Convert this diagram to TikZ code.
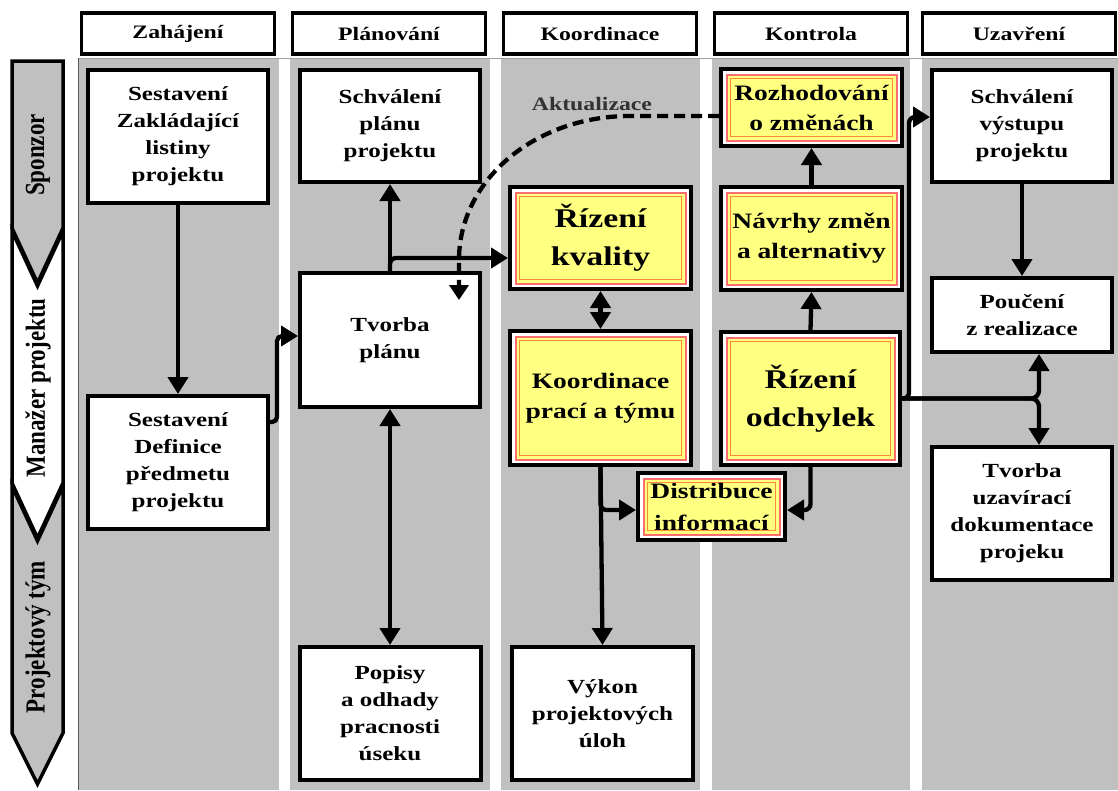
\documentclass[tikz,border=0pt]{standalone}
\usepackage{fontspec}
\setmainfont{Liberation Serif}[FakeStretch=1.25]
\newfontfamily\lanefont{Liberation Serif}
\usetikzlibrary{arrows.meta,calc}
\definecolor{colgray}{HTML}{C0C0C0}
\definecolor{yfill}{HTML}{FFFF80}
\definecolor{salmonln}{HTML}{FF6E6E}
\definecolor{orangeln}{HTML}{FF8A3D}
\tikzset{
  sz/.style 2 args={minimum width=#1pt, minimum height=#2pt},
  wbox/.style={draw, line width=4pt, fill=white, align=center, inner sep=2pt,
    font=\bfseries\fontsize{20}{27}\selectfont},
  hbox/.style={draw, line width=3.5pt, fill=white, minimum width=193pt, minimum height=41pt,
    inner sep=0pt, font=\bfseries\fontsize{19}{22}\selectfont},
  ybox/.style={draw, line width=4pt, fill=white, align=center, inner sep=2pt,
    path picture={
      \draw[salmonln, line width=2pt, fill=yfill]
        ($(path picture bounding box.north west)+(5.5pt,-5.5pt)$) rectangle
        ($(path picture bounding box.south east)+(-5.5pt,5.5pt)$);
      \draw[orangeln, line width=1.2pt]
        ($(path picture bounding box.north west)+(9.5pt,-9.5pt)$) rectangle
        ($(path picture bounding box.south east)+(-9.5pt,9.5pt)$);
    }},
  ymid/.style={font=\bfseries\fontsize{22}{30}\selectfont},
  ybig/.style={font=\bfseries\fontsize{27}{38}\selectfont},
  lanebox/.style={draw=black, line width=3.5pt},
  lanetext/.style={rotate=90, font=\lanefont\bfseries\fontsize{23}{23}\selectfont},
  arr/.style={line width=4.3pt, -{Triangle[width=20pt,length=17pt]}},
  darr/.style={line width=4.3pt, {Triangle[width=20pt,length=17pt]}-{Triangle[width=20pt,length=17pt]}},
  dasharr/.style={line width=4.3pt, dash pattern=on 11pt off 6pt, -{Triangle[width=19pt,length=15pt]}},
}
\begin{document}
\begin{tikzpicture}[x=1pt,y=-1pt]
\useasboundingbox (0,0) rectangle (1118,790);
\fill[white] (0,0) rectangle (1118,790);
% column backgrounds
\fill[colgray] (78,58) rectangle (279,790);
\fill[colgray] (290,58) rectangle (490,790);
\fill[colgray] (501,58) rectangle (700,790);
\fill[colgray] (712,58) rectangle (910,790);
\fill[colgray] (922,58) rectangle (1118,790);
\draw[gray!75, line width=1pt] (78,58) -- (1118,58);
\draw[gray!70!black, line width=0.8pt] (78,58) -- (78,790);
% swimlane arrows
\filldraw[lanebox, fill=colgray] (12,61) -- (63,61) -- (63,228) -- (37.5,283) -- (12,228) -- cycle;
\filldraw[lanebox, fill=white] (12,231) -- (37.5,286) -- (63,231) -- (63,483) -- (37.5,538) -- (12,483) -- cycle;
\filldraw[lanebox, fill=colgray] (12,486) -- (37.5,541) -- (63,486) -- (63,733) -- (37.5,784) -- (12,733) -- cycle;
\node[lanetext] (lsp) at (38,155) {\scalebox{1}[1.2]{Sponzor}};
\node[lanetext] (lmp) at (38,388) {\scalebox{1}[1.2]{Manažer projektu}};
\node[lanetext] (lpt) at (38,637) {\scalebox{1}[1.2]{Projektový tým}};
% headers
\node[hbox] (h1) at (178,33.5) {Zahájení};
\node[hbox] (h2) at (389,33.5) {Plánování};
\node[hbox] (h3) at (600,33.5) {Koordinace};
\node[hbox] (h4) at (811,33.5) {Kontrola};
\node[hbox] (h5) at (1019,33.5) {Uzavření};
% white boxes
\node[wbox, sz={180}{133}] (b1) at (178,136.5) {Sestavení\\Zakládající\\listiny\\projektu};
\node[wbox, sz={180}{133}] (b2) at (178,462.5) {Sestavení\\Definice\\předmetu\\projektu};
\node[wbox, sz={180}{112}] (sp) at (390,126) {Schválení\\plánu\\projektu};
\node[wbox, sz={180}{134}] (tp) at (390,340) {Tvorba\\plánu};
\node[wbox, sz={181}{133}] (po) at (390,713.5) {Popisy\\a odhady\\pracnosti\\úseku};
\node[wbox, sz={181}{133}] (vy) at (602.5,713.5) {Výkon\\projektových\\úloh};
\node[wbox, sz={180}{112}] (sv) at (1022,126) {Schválení\\výstupu\\projektu};
\node[wbox, sz={180}{74}] (pr) at (1022,315) {Poučení\\z realizace};
\node[wbox, sz={180}{133}] (tu) at (1022,513.5) {Tvorba\\uzavírací\\dokumentace\\projeku};
% yellow boxes
\node[ybox, ybig, sz={181}{102}] (rk) at (600.5,238) {Řízení\\kvality};
\node[ybox, ymid, sz={181}{134}] (ko) at (600.5,398) {Koordinace\\prací a týmu};
\node[ybox, font=\bfseries\fontsize{22}{32}\selectfont, sz={147}{67}, inner sep=0pt] (di) at (711.5,506.5) {Distribuce\\informací};
\node[ybox, ymid, sz={181}{77}] (rz) at (811.5,107.5) {Rozhodování\\o změnách};
\node[ybox, ymid, sz={181}{103}] (nz) at (811.5,238.5) {Návrhy změn\\a alternativy};
\node[ybox, ybig, sz={179}{133}] (ro) at (810.5,398.5) {Řízení\\odchylek};
% label
\node[font=\bfseries\fontsize{19}{22}\selectfont, text=black!80] (akt) at (592,104) {Aktualizace};
% connectors
\draw[arr] (b1.south) -- (b2.north);
\draw[arr, rounded corners=5pt] (b2.east |- 0,422) -- (277,422) -- (277,336) -- (tp.west |- 0,336);
\draw[arr] (tp.north) -- (sp.south);
\draw[arr, rounded corners=6pt] (tp.north) -- (tp.north |- 0,258) -- (rk.west |- 0,258);
\draw[darr] (tp.south) -- (po.north);
\coordinate (aktend) at (459,300);
\draw[dasharr] (rz.west |- 0,116) -- (630,116) .. controls (535,116) and (459,180) .. (459,260) -- (aktend);
\draw[darr] (rk.south) -- (ko.north);
\draw[arr] (ko.south) -- (vy.north);
\draw[arr, rounded corners=6pt] (ko.south) -- (ko.south |- 0,510) -- (di.west |- 0,510);
\draw[arr, rounded corners=6pt] (ro.south) -- (ro.south |- 0,510) -- (di.east |- 0,510);
\draw[arr] (ro.north) -- (nz.south);
\draw[arr] (nz.north) -- (rz.south);
\draw[arr, rounded corners=6pt] (ro.east) -- (909,398.5) -- (909,117) -- (sv.west |- 0,117);
\draw[arr, rounded corners=8pt] (ro.east) -- (1039,398.5) -- (pr.south -| 1039,0);
\draw[arr, rounded corners=8pt] (ro.east) -- (1039,398.5) -- (tu.north -| 1039,0);
\draw[arr] (sv.south) -- (pr.north);
\end{tikzpicture}
\end{document}
